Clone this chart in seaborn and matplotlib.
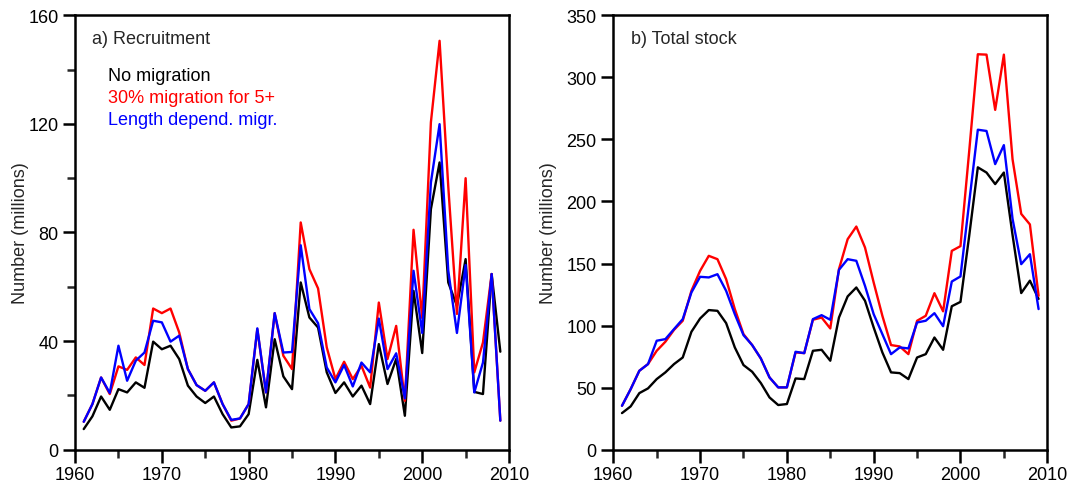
import numpy as np
import pandas as pd
import matplotlib
matplotlib.use("Agg")
import matplotlib.pyplot as plt
from matplotlib.ticker import MultipleLocator
import seaborn as sns

# data
years = list(range(1961, 2010))
series_names = ["No migration", "30% migration for 5+", "Length depend. migr."]
series_colors = ["black", "#ff0000", "#0000ff"]

# a) Recruitment (millions)
recruit_none = [7.6, 12.3, 19.6, 14.7, 22.3, 21.1, 24.8, 22.8, 39.8, 37.0,
                38.3, 33.4, 23.6, 19.6, 17.2, 19.6, 13.1, 8.2, 8.6, 13.1,
                33.1, 15.6, 40.7, 27.0, 22.3, 61.6, 48.7, 45.0, 28.5, 20.9,
                24.8, 19.6, 23.6, 16.8, 38.9, 24.2, 33.4, 12.5, 58.5, 35.6,
                88.6, 105.8, 61.6, 53.0, 70.2, 21.3, 20.5, 64.7, 36.1]
recruit_30pct = [10.3, 16.8, 26.6, 20.5, 30.7, 29.4, 34.0, 31.2, 52.0, 50.3,
                 52.0, 43.2, 29.7, 23.8, 21.7, 24.8, 16.8, 10.7, 11.5, 16.8,
                 44.4, 21.1, 50.3, 34.6, 29.7, 83.7, 66.5, 59.4, 37.7, 26.0,
                 32.4, 26.0, 30.9, 22.9, 54.2, 33.4, 45.6, 18.0, 81.0, 48.5,
                 120.6, 150.6, 97.0, 50.0, 100.0, 28.5, 39.5, 64.7, 10.7]
recruit_length = [10.3, 16.8, 26.6, 20.9, 38.3, 25.4, 32.8, 35.8, 47.5, 46.9,
                  39.8, 42.0, 29.7, 23.8, 21.7, 24.8, 16.8, 11.0, 11.5, 16.8,
                  44.7, 21.1, 50.3, 35.8, 36.0, 75.3, 51.8, 46.6, 30.3, 24.8,
                  31.2, 23.3, 32.1, 28.5, 48.3, 29.7, 35.5, 18.9, 65.9, 43.0,
                  98.4, 119.9, 66.0, 43.0, 68.0, 21.1, 32.1, 64.7, 10.7]

# b) Total stock (millions)
stock_none = [29.5, 34.9, 45.6, 49.4, 56.9, 62.3, 69.0, 74.3, 95.0, 105.7,
              112.5, 111.9, 102.0, 82.4, 68.2, 62.8, 53.7, 42.1, 36.0, 36.8,
              57.4, 56.9, 79.7, 80.5, 71.7, 106.5, 123.5, 130.7, 120.0, 98.5,
              78.4, 62.3, 61.7, 56.9, 74.3, 77.0, 90.4, 80.5, 115.6, 119.1,
              172.0, 227.5, 223.3, 214.0, 223.3, 173.0, 126.2, 136.2, 121.5]
stock_30pct = [35.4, 48.8, 63.6, 69.0, 79.7, 87.0, 96.6, 103.9, 128.0, 144.1,
               156.2, 153.5, 137.4, 113.3, 93.1, 84.3, 73.5, 58.2, 50.2, 50.2,
               78.4, 77.8, 104.7, 106.5, 97.7, 145.5, 169.6, 179.8, 162.9, 134.7,
               107.9, 84.3, 83.2, 77.0, 103.9, 107.9, 126.1, 111.5, 160.2, 164.0,
               240.0, 318.6, 318.3, 273.8, 318.3, 234.0, 190.0, 181.5, 124.0]
stock_length = [35.4, 48.8, 63.6, 69.0, 87.8, 89.1, 97.2, 105.2, 126.7, 139.3,
                138.8, 141.4, 128.0, 109.2, 92.3, 84.3, 73.5, 58.2, 50.2, 50.2,
                78.9, 77.8, 105.2, 108.4, 104.7, 144.9, 153.5, 152.2, 132.0, 109.2,
                93.1, 77.0, 82.4, 81.6, 102.5, 103.9, 110.0, 99.5, 135.5, 139.6,
                199.0, 257.8, 256.8, 230.1, 245.4, 186.0, 149.5, 157.5, 113.3]


def long_frame(values):
    """Stack the three scenario series into one long dataframe"""
    parts = []
    for name, vals in zip(series_names, values):
        parts.append(pd.DataFrame({"year": years, "value": vals, "scenario": name}))
    return pd.concat(parts, ignore_index=True)


sns.set_style("ticks")
plt.rcParams["font.family"] = ["Liberation Sans", "DejaVu Sans"]
plt.rcParams["font.size"] = 13

fig = plt.figure(figsize=(10.83, 4.89), dpi=100)
ax_a = fig.add_axes([0.0693, 0.0783, 0.4007, 0.8884])
ax_b = fig.add_axes([0.5663, 0.0783, 0.4007, 0.8884])

palette = dict(zip(series_names, series_colors))

panels = [
    (ax_a, long_frame([recruit_none, recruit_30pct, recruit_length]), 160, 40, 20,
     "a) Recruitment", -0.106),
    (ax_b, long_frame([stock_none, stock_30pct, stock_length]), 350, 50, None,
     "b) Total stock", -0.129),
]

for ax, df, ymax, ystep, yminor, title, label_x in panels:
    sns.lineplot(data=df, x="year", y="value", hue="scenario", hue_order=series_names,
                 palette=palette, linewidth=1.7, legend=False, ax=ax)
    ax.set_xlim(1960, 2010)
    ax.set_ylim(0, ymax)
    ax.xaxis.set_major_locator(MultipleLocator(10))
    ax.xaxis.set_minor_locator(MultipleLocator(5))
    ax.yaxis.set_major_locator(MultipleLocator(ystep))
    if yminor:
        ax.yaxis.set_minor_locator(MultipleLocator(yminor))
    ax.set_xlabel("")
    ax.set_ylabel("Number (millions)", fontsize=13)
    ax.yaxis.set_label_coords(label_x, 0.5)
    for side in ["left", "right", "top", "bottom"]:
        ax.spines[side].set_visible(True)
        ax.spines[side].set_linewidth(1.8)
        ax.spines[side].set_color("black")
    ax.tick_params(which="both", right=False, top=False)
    ax.tick_params(which="major", direction="out", length=9, width=1.8,
                   labelsize=13, pad=3, colors="black")
    ax.tick_params(which="minor", direction="out", length=5.5, width=1.8)
    ax.text(0.04, 0.967, title, transform=ax.transAxes, fontsize=13,
            ha="left", va="top")

# legend written as coloured text in panel a
for i, (name, color) in enumerate(zip(series_names, series_colors)):
    ax_a.text(0.076, 0.882 - i * 0.051, name, color=color, transform=ax_a.transAxes,
              fontsize=13, ha="left", va="top")

fig.savefig("out.png", dpi=100)
